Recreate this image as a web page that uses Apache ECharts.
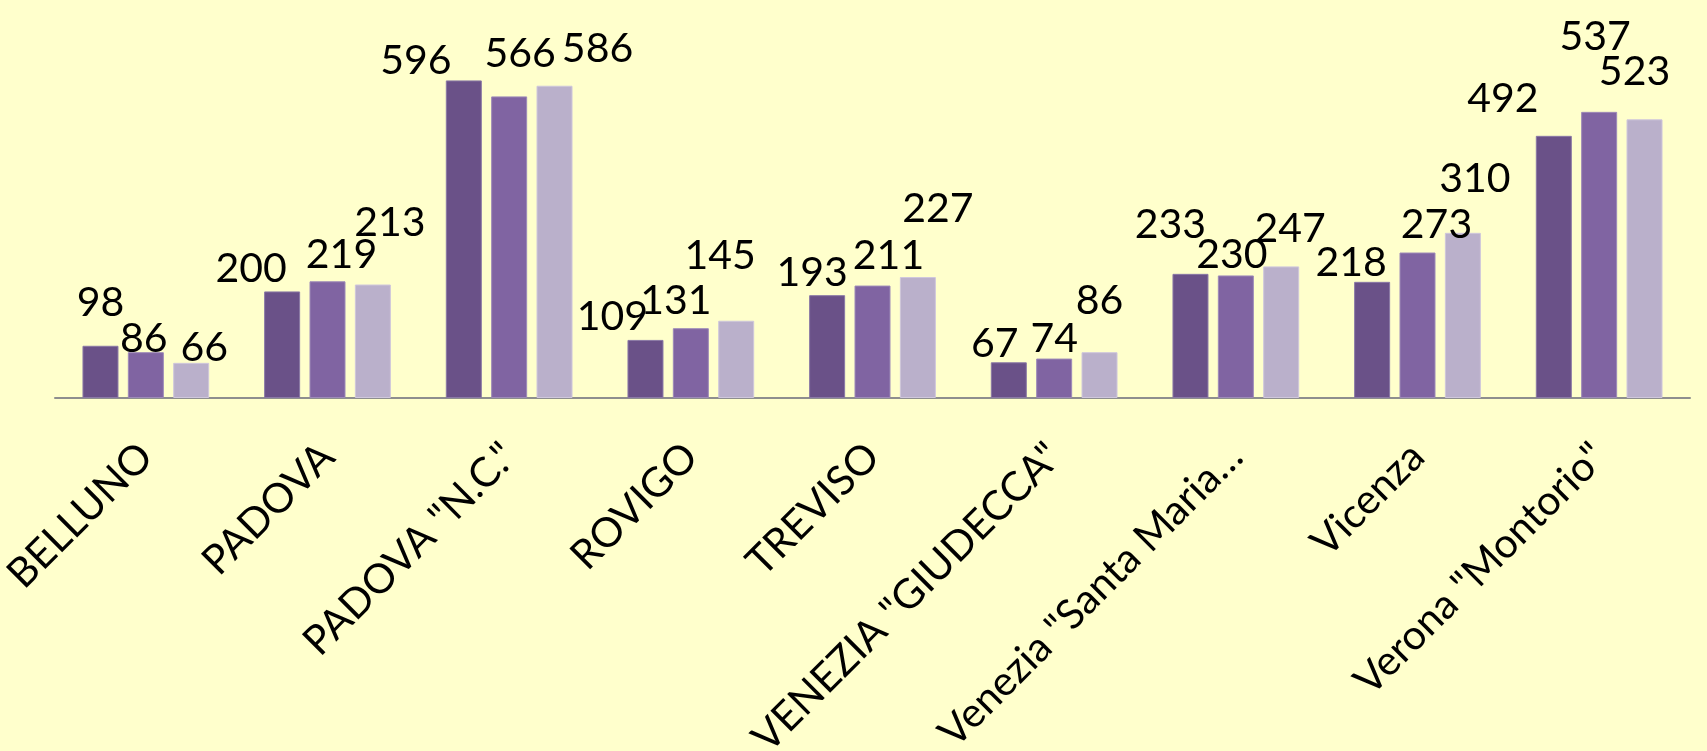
<!DOCTYPE html>
<html>
<head>
<meta charset="utf-8">
<title>Istituti penitenziari Veneto</title>
<script src="https://cdn.jsdelivr.net/npm/echarts@6/dist/echarts.min.js"></script>
<style>
  html, body { margin: 0; padding: 0; background: #ffffcc; }
  #chart { width: 1707px; height: 751px; }
</style>
</head>
<body>
<div id="chart"></div>
<script>
const categories = [
  'BELLUNO', 'PADOVA', 'PADOVA "N.C."', 'ROVIGO', 'TREVISO',
  'VENEZIA "GIUDECCA"', 'Venezia "Santa Maria…', 'Vicenza', 'Verona "Montorio"'
]
const serie1 = [98, 200, 596, 109, 193, 67, 233, 218, 492]
const serie2 = [86, 219, 566, 131, 211, 74, 230, 273, 537]
const serie3 = [66, 213, 586, 145, 227, 86, 247, 310, 523]

// label nudges [dx, dy] so labels sit where the original chart put them
const labelShift = [
  [[0, -27], [-31, -7], [-48, -4], [-33, -8], [-15, -7], [-14, -3], [-20, -34], [-21, -4], [-51, -22]],
  [[-2, 2], [14, -11], [11, -27], [-15, -12], [16, -14], [0, -4], [-4, -5], [19, -12], [-4, -60]],
  [[13, 0], [17, -46], [43, -21], [-16, -49], [20, -53], [0, -36], [9, -22], [12, -39], [-10, -32]],
]

const colors = ['#6a5188', '#8064a2', '#bab0cb']
const borders = ['#8a78a6', '#9d8ab8', '#cfc7dc']

const chart = echarts.init(document.getElementById('chart'))

const seriesData = [serie1, serie2, serie3]

chart.setOption({
  backgroundColor: '#ffffcc',
  animation: false,
  grid: {
    left: 55,
    right: 17,
    top: 25,
    bottom: 353,
    outerBoundsMode: 'none',
  },
  xAxis: {
    type: 'category',
    data: categories,
    axisLine: { lineStyle: { color: '#8e8e8e', width: 2 } },
    axisTick: { show: false },
    axisLabel: {
      rotate: 45,
      interval: 0,
      margin: 52,
      color: '#000',
      fontFamily: 'Lato',
      fontSize: 41,
    },
  },
  yAxis: {
    type: 'value',
    min: 0,
    max: 700,
    show: false,
    splitLine: { show: false },
  },
  series: seriesData.map((vals, s) => ({
    name: 'Serie ' + (s + 1),
    type: 'bar',
    barWidth: 36,
    barGap: '26%',
    data: vals.map((v, i) => ({
      value: v,
      label: { offset: labelShift[s][i] },
    })),
    itemStyle: { color: colors[s], borderColor: borders[s], borderWidth: 1 },
    label: {
      show: true,
      position: 'top',
      distance: -5,
      color: '#000',
      fontFamily: 'Lato',
      fontSize: 41,
    },
  })),
})
</script>
</body>
</html>
